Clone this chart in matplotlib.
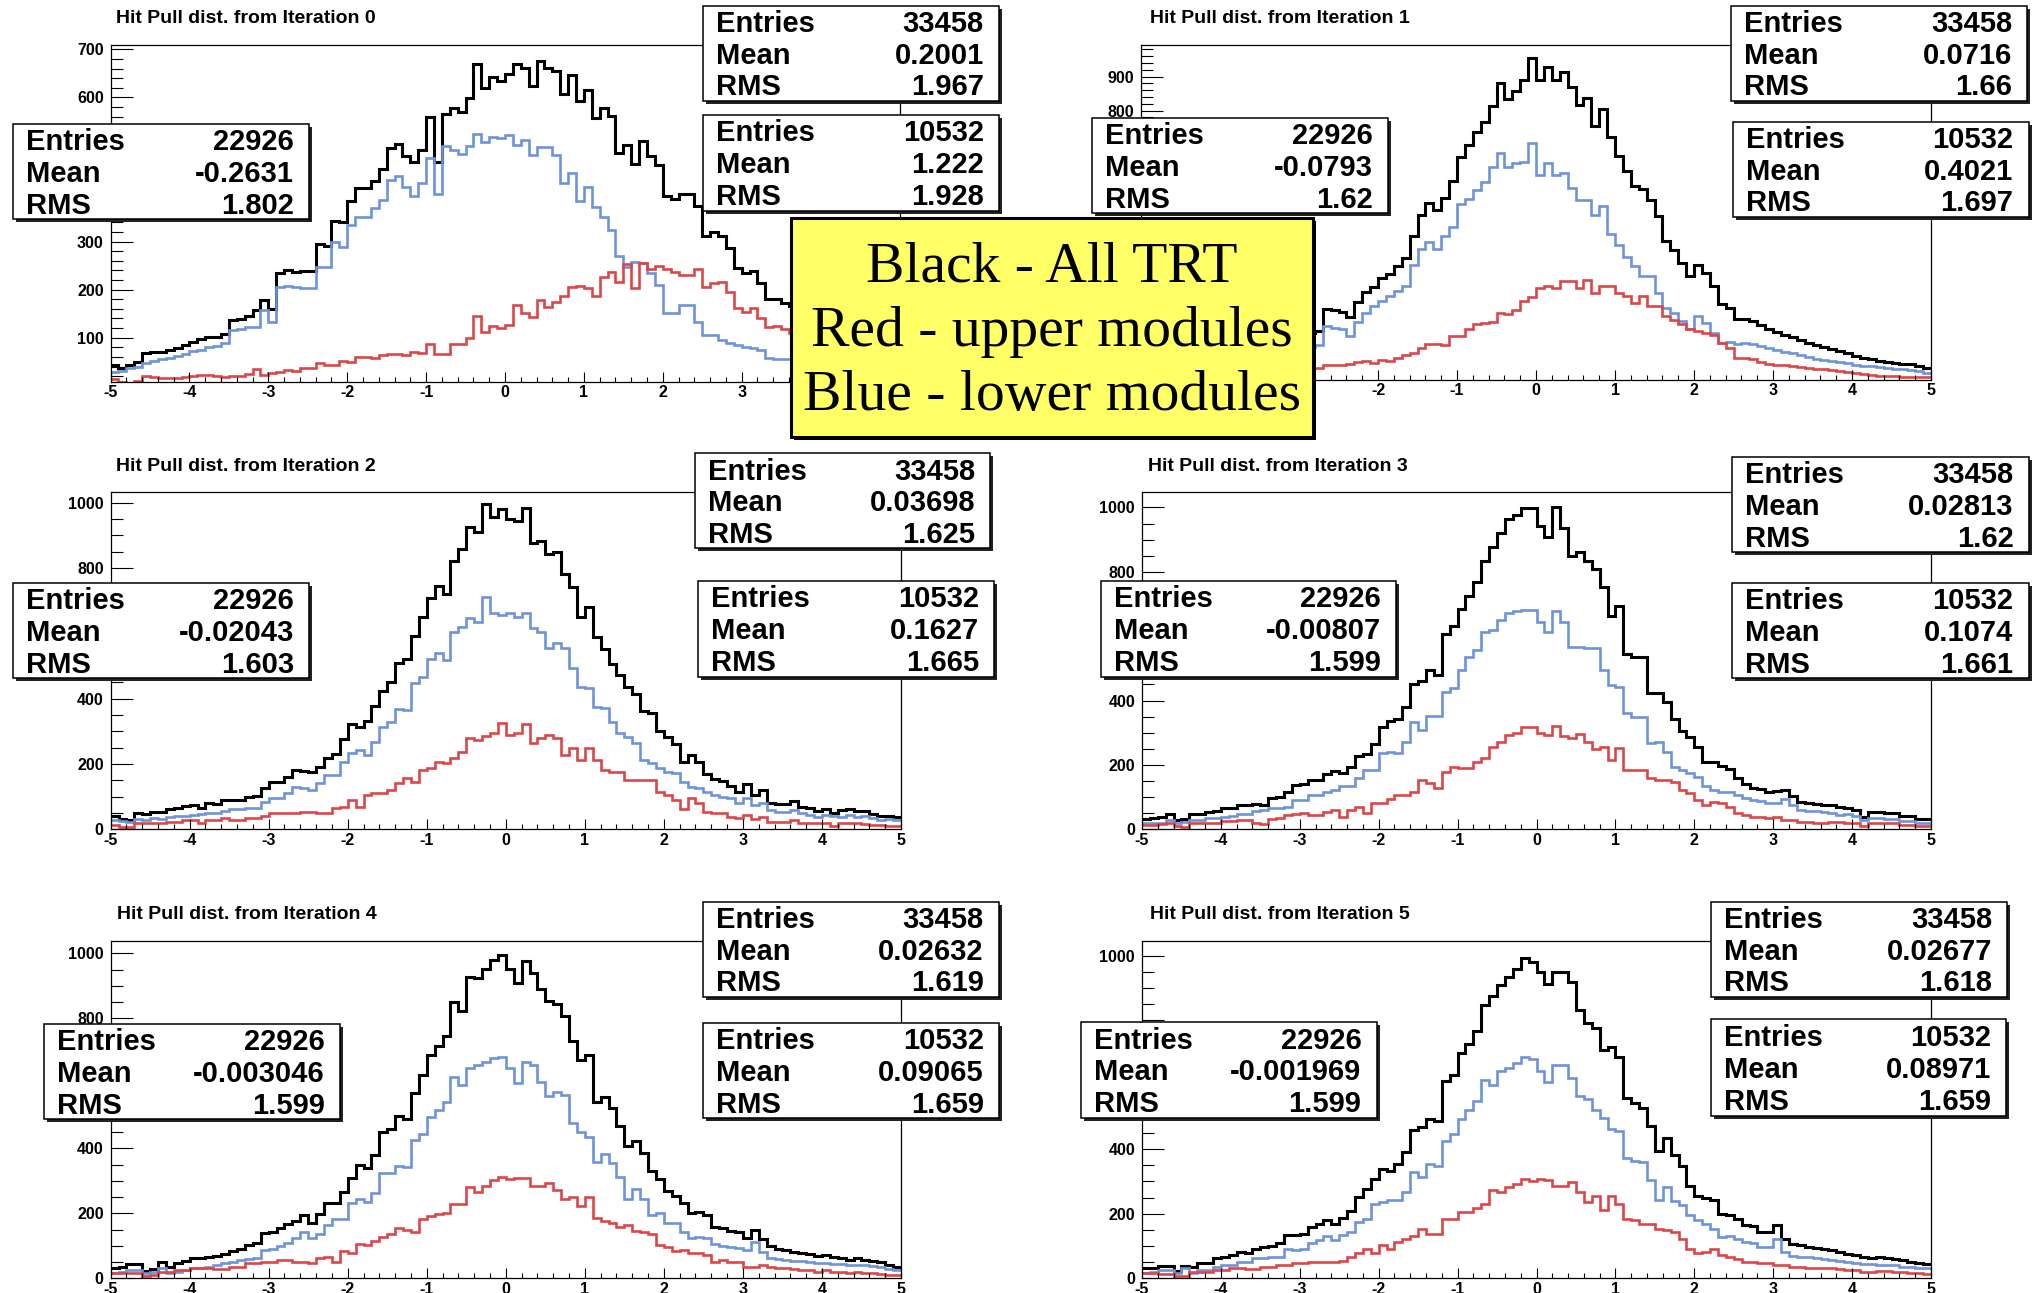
import numpy as np
import matplotlib.pyplot as plt
from matplotlib.patches import Rectangle
from matplotlib.ticker import MultipleLocator

plt.rcParams['axes.unicode_minus'] = False

W, H = 2043, 1293

# 100 bins of 0.1 from -5 to 5
edges = np.linspace(-5, 5, 101)

# lower modules (blue) and upper modules (red); all TRT (black) = blue + red
blue_it0 = [28, 30, 38, 40, 48, 52, 55, 58, 62, 66, 72, 75, 80, 82, 88, 116, 118, 122, 123, 157, 133, 206, 208, 205,
            203, 203, 248, 248, 300, 289, 334, 352, 352, 369, 386, 428, 436, 414, 395, 421, 473, 399, 499, 490, 482,
            499, 524, 508, 518, 515, 522, 501, 511, 480, 497, 497, 480, 421, 442, 384, 413, 372, 352, 324, 269, 248,
            258, 255, 234, 210, 151, 151, 168, 168, 133, 106, 106,
            95, 90, 85, 81, 78, 74, 57, 56, 55, 55, 52, 50, 48, 45, 44, 42, 40, 38, 36, 35, 33, 32, 30]
red_it0 = [15, 8, 5, 10, 20, 18, 16, 16, 17, 18, 20, 22, 22, 20, 19, 20, 21, 24, 34, 22, 27, 29, 33, 31,
           36, 36, 47, 43, 43, 52, 50, 59, 59, 57, 64, 67, 67, 64, 71, 69, 87, 67, 67, 87, 87, 99, 145, 112, 124,
           120, 127, 168, 151, 144, 178, 164, 175, 186, 205, 208, 203, 186, 226, 237, 216, 253, 203, 255, 244, 249,
           244, 237, 230, 230, 242, 206, 214,
           216, 196, 161, 154, 161, 140, 123, 125, 118, 110, 105, 100, 96, 90, 86, 80, 76, 72, 68, 64, 60, 56, 52]

blue_it1 = [20, 21, 22, 25, 28, 30, 33, 36, 40, 45, 50, 54, 58, 62, 68, 72, 78, 82, 88, 95, 100, 105, 110, 165,
            160, 156, 136, 177, 205, 225, 240, 255, 270, 284, 346, 393, 413, 393, 432, 457, 526, 541, 566, 591, 635,
            675, 635, 645, 650, 704, 610, 645, 610, 615, 571, 536, 536, 492, 520, 437, 403, 368, 344, 314, 312, 264,
            220, 205, 180, 156, 195, 175, 146, 116, 118, 114,
            116, 112, 108, 101, 96, 90, 86, 80, 75, 70, 67, 63, 60, 56, 52, 48, 47, 44, 42, 40, 38, 36, 33, 28]
red_it1 = [12, 13, 14, 15, 16, 18, 19, 20, 22, 24, 25, 27, 28, 30, 32, 33, 35, 36, 38, 40, 40, 41, 42, 50,
           52, 52, 55, 59, 62, 57, 66, 64, 72, 81, 86, 101, 114, 114, 111, 136, 136, 158, 171, 174, 177, 205, 200,
           213, 240, 252, 279, 284, 279, 299, 299, 279, 302, 264, 284, 284, 264, 255, 235, 255, 225, 225, 195, 185,
           171, 158, 151, 146, 138, 116, 101, 72,
           72, 68, 60, 55, 52, 50, 47, 45, 42, 40, 38, 36, 33, 30, 27, 24, 22, 20, 19, 18, 17, 17, 16, 15]

blue_it2 = [29, 25, 23, 31, 30, 34, 33, 38, 41, 42, 44, 46, 51, 50, 56, 61, 63, 64, 66, 85,
            95, 95, 110, 131, 125, 120, 141, 166, 166, 207, 233, 243, 228, 268, 314, 330, 367, 365, 447, 467,
            520, 539, 518, 605, 620, 646, 636, 710, 661, 656, 661, 651, 661, 615, 605, 554, 569, 554, 493, 437,
            432, 376, 370, 330, 294, 284, 263, 212, 204, 187, 177, 171, 146, 131, 126, 115, 105, 100, 95, 80,
            95, 74, 80, 59, 54, 54, 59, 49, 44, 39, 44, 41, 39, 44, 39, 41, 34, 29, 31, 29]
red_it2 = [13, 8, 6, 18, 18, 20, 20, 23, 23, 29, 29, 20, 29, 29, 34, 30, 27, 34, 36, 41,
           49, 49, 51, 51, 54, 54, 51, 51, 64, 69, 90, 69, 105, 110, 110, 120, 141, 156, 146, 182,
           187, 207, 202, 217, 238, 279, 273, 286, 294, 324, 289, 294, 322, 263, 279, 289, 279, 228, 248, 212,
           248, 212, 182, 177, 177, 151, 151, 151, 151, 115, 105, 90, 61, 95, 80, 54, 49, 49, 39, 34,
           44, 31, 39, 23, 23, 23, 29, 20, 20, 18, 18, 10, 20, 18, 18, 15, 13, 13, 10, 10]

blue_it3 = [19, 21, 21, 29, 20, 24, 29, 30, 34, 35, 39, 40, 48, 47, 58, 60, 65, 66, 70, 91,
            90, 107, 107, 117, 122, 135, 135, 158, 184, 184, 236, 241, 236, 272, 334, 308, 352, 352, 428, 438,
            495, 536, 557, 614, 619, 650, 671, 679, 681, 681, 645, 614, 679, 645, 567, 567, 562, 562, 495, 448,
            443, 360, 350, 350, 267, 272, 241, 195, 184, 174, 164, 133, 122, 117, 117, 107, 96, 91, 89, 81,
            81, 93, 76, 60, 58, 58, 55, 50, 45, 48, 41, 29, 34, 34, 31, 31, 27, 27, 21, 21]
red_it3 = [13, 13, 18, 19, 10, 8, 19, 19, 21, 21, 27, 27, 29, 29, 20, 17, 31, 35, 45, 48,
           50, 45, 45, 55, 60, 39, 60, 70, 50, 81, 81, 95, 107, 107, 117, 153, 143, 127, 179, 195,
           189, 189, 210, 220, 257, 272, 293, 298, 317, 317, 298, 293, 321, 290, 283, 296, 272, 248, 257, 215,
           252, 184, 184, 184, 158, 153, 153, 148, 122, 112, 91, 76, 86, 81, 70, 52, 45, 37, 37, 34,
           39, 29, 29, 24, 24, 21, 21, 24, 24, 19, 19, 10, 21, 21, 19, 19, 13, 13, 10, 10]

blue_it4 = [17, 20, 26, 26, 15, 20, 31, 15, 20, 26, 31, 33, 36, 40, 46, 50, 56, 58, 62, 87, 90, 99, 110, 125,
            144, 123, 136, 164, 182, 182, 231, 243, 236, 264, 323, 323, 346, 342, 426, 444, 495, 518, 544, 621,
            595, 646, 656, 667, 677, 682, 646, 600, 667, 656, 605, 561, 572, 564, 479, 451, 436, 359, 382, 356,
            311, 243, 274, 243, 195, 202, 171, 169, 144, 123, 126, 123, 106,
            100, 96, 92, 88, 112, 80, 64, 58, 56, 54, 52, 50, 48, 47, 45, 44, 42, 41, 40, 38, 36, 30, 26]
red_it4 = [15, 15, 17, 17, 7, 10, 20, 20, 26, 26, 31, 31, 31, 28, 28, 34, 34, 46, 46, 51, 51, 56, 56, 51,
           51, 46, 62, 67, 51, 85, 77, 106, 103, 116, 126, 136, 154, 149, 144, 182, 192, 198, 202, 229, 229, 282,
           267, 284, 303, 313, 305, 308, 308, 284, 284, 292, 272, 243, 251, 221, 251, 185, 177, 169, 159, 164,
           147, 144, 136, 103, 97, 85, 87, 77, 79, 72, 51,
           56, 51, 51, 36, 36, 41, 36, 31, 31, 28, 26, 26, 20, 26, 20, 20, 15, 20, 17, 15, 13, 10, 10]

blue_it5 = [17, 18, 26, 26, 15, 31, 15, 26, 26, 36, 41, 41, 51, 51, 62, 62, 67, 67, 92, 87,
            90, 108, 118, 130, 118, 133, 144, 174, 185, 231, 236, 241, 241, 267, 328, 315, 354, 349, 426, 446,
            492, 520, 549, 615, 600, 641, 651, 667, 684, 680, 641, 609, 662, 662, 620, 564, 554, 520, 497, 462,
            456, 372, 364, 359, 303, 241, 284, 239, 226, 195, 179, 167, 154, 128, 130, 123, 113, 110, 97, 97,
            123, 82, 69, 67, 67, 62, 58, 56, 54, 50, 46, 45, 44, 42, 41, 40, 36, 36, 33, 31]
red_it5 = [15, 15, 13, 13, 7, 7, 20, 20, 20, 26, 26, 31, 31, 28, 28, 34, 34, 41, 41, 46,
           46, 51, 51, 51, 51, 54, 65, 77, 92, 77, 103, 92, 113, 123, 130, 154, 138, 138, 185, 185,
           205, 205, 218, 231, 274, 267, 282, 292, 308, 300, 308, 303, 287, 287, 297, 267, 236, 256, 210, 256,
           231, 185, 179, 169, 169, 154, 149, 144, 123, 92, 77, 82, 89, 72, 67, 60, 51, 51, 46, 46,
           41, 41, 36, 36, 31, 31, 31, 31, 28, 26, 26, 20, 20, 23, 23, 20, 20, 15, 15, 13]

blue_all = [blue_it0, blue_it1, blue_it2, blue_it3, blue_it4, blue_it5]
red_all = [red_it0, red_it1, red_it2, red_it3, red_it4, red_it5]

titles = ["Hit Pull dist. from Iteration %d" % i for i in range(6)]

# stats box texts (Entries, Mean, RMS)
stats_black = [("33458", "0.2001", "1.967"), ("33458", "0.0716", "1.66"), ("33458", "0.03698", "1.625"),
               ("33458", "0.02813", "1.62"), ("33458", "0.02632", "1.619"), ("33458", "0.02677", "1.618")]
stats_blue = [("22926", "-0.2631", "1.802"), ("22926", "-0.0793", "1.62"), ("22926", "-0.02043", "1.603"),
              ("22926", "-0.00807", "1.599"), ("22926", "-0.003046", "1.599"), ("22926", "-0.001969", "1.599")]
stats_red = [("10532", "1.222", "1.928"), ("10532", "0.4021", "1.697"), ("10532", "0.1627", "1.665"),
             ("10532", "0.1074", "1.661"), ("10532", "0.09065", "1.659"), ("10532", "0.08971", "1.659")]

legend_lines = ["Black - All TRT", "Red - upper modules", "Blue - lower modules"]

# layout in pixels: (left, right, top, bottom), y limits, y major/minor step
frames = [(110.6, 899.5, 45, 381.7), (1141, 1931, 45, 380),
          (110.6, 901, 492.3, 829.3), (1142, 1931, 492.3, 829.3),
          (110.6, 901, 941, 1278.3), (1142, 1931, 941, 1278.2)]
ylims = [(8.5, 709), (7, 993), (0, 1032), (0, 1047), (0, 1038), (0, 1045)]
ysteps = [(100, 20), (100, 20), (200, 50), (200, 50), (200, 50), (200, 50)]
title_pos = [(116, 23), (1150, 23), (116, 471), (1148, 471), (117, 919), (1150, 919)]
box_black = [(702.7, 6, 998.7, 100.7), (1731, 6, 2027, 100.7), (695, 453.3, 990, 548.3),
             (1732.4, 456.7, 2028.5, 552.3), (702.7, 901.7, 998.7, 996.7), (1711, 901.7, 2007, 996.7)]
box_red = [(702.7, 115, 998.7, 210.7), (1732.5, 121.7, 2028.5, 216.7), (698, 581, 994, 676.7),
           (1732.4, 582.7, 2028.5, 678.3), (702.7, 1022.7, 998.7, 1118.3), (1711, 1019.3, 2006, 1115.7)]
box_blue = [(13, 124, 309, 219), (1091.6, 118, 1387.6, 213), (13, 582.7, 309, 678.3),
            (1101.3, 581, 1396, 676.7), (44, 1024, 339.6, 1119), (1080.5, 1022.3, 1376.5, 1117.7)]
legend_box = (791, 217.5, 1313, 436.5)

BLUE = '#6d93d9'
RED = '#dc4649'
SANS = 'Liberation Sans'

fig = plt.figure(figsize=(W / 100, H / 100), dpi=100)

axes = []
for i in range(6):
    l, r, t, b = frames[i]
    ax = fig.add_axes([l / W, 1 - b / H, (r - l) / W, (b - t) / H])
    blue = np.array(blue_all[i])
    red = np.array(red_all[i])
    black = blue + red
    ax.stairs(black, edges, baseline=None, color='black', lw=2.2)
    ax.stairs(blue, edges, baseline=None, color=BLUE, lw=1.9)
    ax.stairs(red, edges, baseline=None, color=RED, lw=1.9)
    ax.set_xlim(-5, 5)
    ax.set_ylim(*ylims[i])
    ax.xaxis.set_major_locator(MultipleLocator(1))
    ax.xaxis.set_minor_locator(MultipleLocator(0.2))
    ax.yaxis.set_major_locator(MultipleLocator(ysteps[i][0]))
    ax.yaxis.set_minor_locator(MultipleLocator(ysteps[i][1]))
    ax.tick_params(axis='y', which='major', direction='in', length=16, width=0.8, pad=5)
    ax.tick_params(axis='y', which='minor', direction='in', length=8.4, width=0.8)
    ax.tick_params(axis='x', which='major', direction='in', length=7.4, width=0.8, pad=2.5)
    ax.tick_params(axis='x', which='minor', direction='in', length=3.8, width=0.8)
    for lab in ax.get_xticklabels() + ax.get_yticklabels():
        lab.set_fontfamily(SANS)
        lab.set_fontweight('bold')
        lab.set_fontsize(11.5)
    for sp in ax.spines.values():
        sp.set_linewidth(0.9)
    axes.append(ax)

# overlay in pixel coordinates for titles, stats boxes and the legend box
ov = fig.add_axes([0, 0, 1, 1])
ov.set_xlim(0, W)
ov.set_ylim(H, 0)
ov.axis('off')
ov.patch.set_visible(False)
ov.set_zorder(10)


def stats_box(box, vals):
    l, t, r, b = box
    ov.add_patch(Rectangle((l + 3, t + 3), r - l, b - t, facecolor='#222222', edgecolor='none'))
    ov.add_patch(Rectangle((l, t), r - l, b - t, facecolor='white', edgecolor='black', lw=1.1))
    h = b - t
    for k, (name, v) in enumerate(zip(["Entries", "Mean", "RMS"], vals)):
        y = t + h * (2 * k + 1) / 6 + 10.5
        ov.text(l + 13, y, name, ha='left', va='baseline', fontsize=21,
                fontfamily=SANS, fontweight='bold')
        ov.text(r - 15, y, v, ha='right', va='baseline', fontsize=21,
                fontfamily=SANS, fontweight='bold')


for i in range(6):
    ov.text(title_pos[i][0], title_pos[i][1], titles[i], ha='left', va='baseline',
            fontsize=14, fontfamily=SANS, fontweight='bold')
    stats_box(box_black[i], stats_black[i])
    stats_box(box_red[i], stats_red[i])
    stats_box(box_blue[i], stats_blue[i])

# yellow legend box
yl, yt, yr, yb = legend_box
ov.add_patch(Rectangle((yl + 3, yt + 3), yr - yl, yb - yt, facecolor='black', edgecolor='none'))
ov.add_patch(Rectangle((yl, yt), yr - yl, yb - yt, facecolor='#ffff66', edgecolor='black', lw=2.2))
for k, line in enumerate(legend_lines):
    ov.text((yl + yr) / 2, 281.7 + 64.2 * k, line, ha='center', va='baseline',
            fontsize=41.5, fontfamily='Liberation Serif')

# tick labels that sit under a box are not visible in the original, drop them
fig.canvas.draw()
cover = box_black + box_red + box_blue + [legend_box]
for ax in axes:
    for lab in ax.get_xticklabels() + ax.get_yticklabels():
        if not lab.get_visible() or not lab.get_text():
            continue
        bb = lab.get_window_extent()
        cx, cy = (bb.x0 + bb.x1) / 2, H - (bb.y0 + bb.y1) / 2
        for (l, t, r, b) in cover:
            if l - 2 <= cx <= r + 4 and t - 2 <= cy <= b + 4:
                lab.set_visible(False)
                break

fig.savefig('out.png', dpi=100)
